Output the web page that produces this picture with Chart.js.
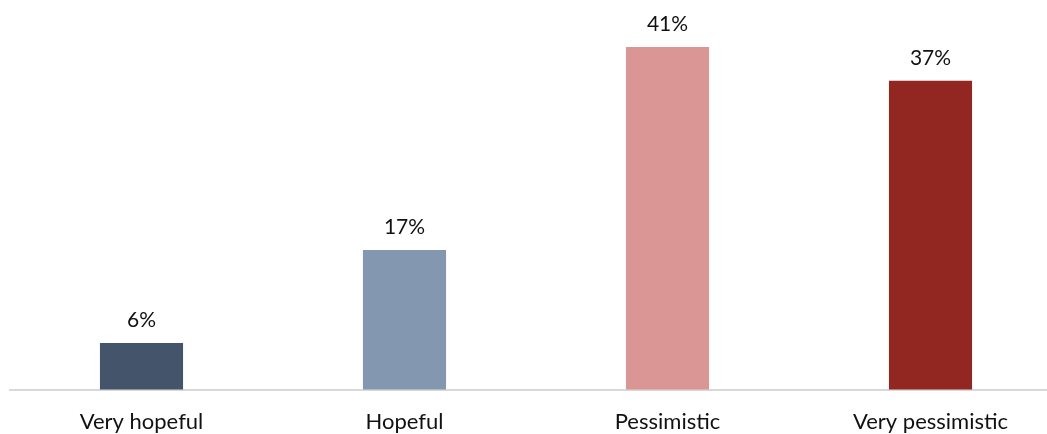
<!DOCTYPE html>
<html>
<head>
<meta charset="utf-8">
<script src="https://cdn.jsdelivr.net/npm/chart.js@4"></script>
<style>
  html, body { margin: 0; padding: 0; background: #fff; overflow: hidden; }
  #wrap { width: 1062px; height: 454px; }
</style>
</head>
<body>
<div id="wrap"><canvas id="chart"></canvas></div>
<script>
const categories = ['Very hopeful', 'Hopeful', 'Pessimistic', 'Very pessimistic'];
const shares = [6, 17, 41, 37];
const barColors = ['#44546A', '#8497B0', '#DA9694', '#922722'];

// draw "xx%" above each bar
const valueLabels = {
  id: 'valueLabels',
  afterDatasetsDraw(chart) {
    const ctx = chart.ctx;
    const meta = chart.getDatasetMeta(0);
    ctx.save();
    ctx.font = '21px Lato, "Open Sans", sans-serif';
    ctx.fillStyle = '#111';
    ctx.textAlign = 'center';
    ctx.textBaseline = 'alphabetic';
    meta.data.forEach((bar, i) => {
      ctx.fillText(shares[i] + '%', bar.x, bar.y - 16);
    });
    ctx.restore();
  }
};

new Chart(document.getElementById('chart'), {
  type: 'bar',
  data: {
    labels: categories,
    datasets: [{
      data: shares,
      backgroundColor: barColors,
      categoryPercentage: 1,
      barPercentage: 0.316
    }]
  },
  options: {
    responsive: true,
    maintainAspectRatio: false,
    animation: false,
    layout: { padding: { left: 10, right: 0, top: 0, bottom: 0 } },
    plugins: { legend: { display: false }, tooltip: { enabled: false } },
    scales: {
      x: {
        grid: { display: false, drawTicks: false },
        border: { color: '#d9d9d9', width: 2 },
        ticks: {
          color: '#111',
          padding: 19,
          font: { family: 'Lato, "Open Sans", sans-serif', size: 22 }
        }
      },
      y: {
        display: false,
        min: 0.5,
        max: 46.56
      }
    }
  },
  plugins: [valueLabels]
});
</script>
</body>
</html>
